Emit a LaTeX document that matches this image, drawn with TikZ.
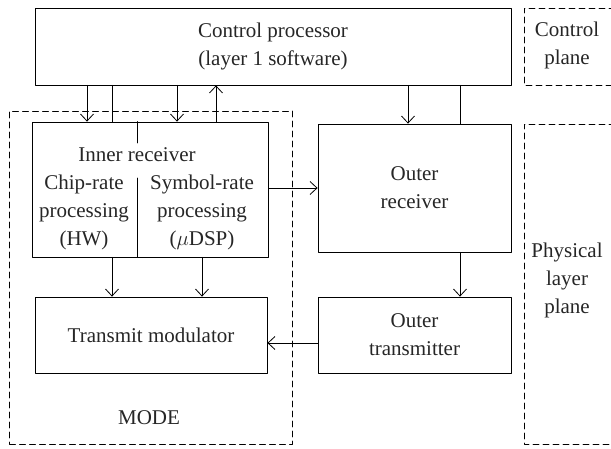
\documentclass[tikz,border=0pt]{standalone}
\usepackage{amsmath}
\usepackage{fontspec}
\setmainfont{Liberation Serif}
\usepackage{tikz}
\usetikzlibrary{arrows.meta}

\begin{document}
\begin{tikzpicture}[line cap=round,line join=round,>={Straight Barb[length=7pt,width=13pt]},x=1pt,y=-1pt,line width=0.8pt,
    font=\fontsize{21}{28}\selectfont,
    block/.style={draw,rectangle,inner sep=0pt,align=center,text=black!85},
    lbl/.style={inner sep=0pt,align=center,text=black!85},
    plane/.style={dashed,dash pattern=on 6pt off 4pt}]
      \useasboundingbox (0,0) rectangle (611,449);
      % boxes
      \node[block,minimum width=476,minimum height=77] (ctrl) at (273,46.5) {Control processor\\(layer 1 software)};
      \node[block,minimum width=236,minimum height=135] (inner) at (150,189.5) {};
      \node[block,minimum width=193,minimum height=128] (outrx) at (414.5,188) {Outer\\receiver};
      \node[block,minimum width=193,minimum height=76] (outtx) at (414.5,335) {Outer\\transmitter};
      \node[block,minimum width=232,minimum height=76] (txmod) at (151,335) {Transmit modulator};
      \node[draw,plane,rectangle,minimum width=283,minimum height=333] (mode) at (151,277.5) {};
      % texts
      \node[lbl] (innerlbl) at (137,155) {Inner receiver};
      \node[lbl] (chip) at (84,212) {Chip-rate\\processing\\(HW)};
      \node[lbl] (symb) at (202,212) {Symbol-rate\\processing\\($\mu$DSP)};
      \node[lbl] (modelbl) at (149,418) {MODE};
      \node[lbl] (ctrlpl) at (567,45) {Control\\plane};
      \node[lbl] (phypl) at (567,280) {Physical\\layer\\plane};
      % planes
      \draw[plane] (615,8) -- (524,8) -- (524,85) -- (615,85);
      \draw[plane] (615,124) -- (524,124) -- (524,444) -- (615,444);
      % inner divider
      \draw (inner.north -| 137,0) -- (137,143);
      \draw (137,178) -- (inner.south -| 137,0);
      % connectors
      \draw[->] (ctrl.south -| 87,0) -- (inner.north -| 87,0);
      \draw (ctrl.south -| 112,0) -- (inner.north -| 112,0);
      \draw[->] (ctrl.south -| 177,0) -- (inner.north -| 177,0);
      \draw[<-] (ctrl.south -| 216,0) -- (inner.north -| 216,0);
      \draw[->] (ctrl.south -| 408,0) -- (outrx.north -| 408,0);
      \draw (ctrl.south -| 460,0) -- (outrx.north -| 460,0);
      \draw[->] (inner.east |- 0,188) -- (outrx.west |- 0,188);
      \draw[->] (inner.south -| 112,0) -- (txmod.north -| 112,0);
      \draw[->] (inner.south -| 202,0) -- (txmod.north -| 202,0);
      \draw[->] (outrx.south -| 460,0) -- (outtx.north -| 460,0);
      \draw[->] (outtx.west |- 0,343) -- (txmod.east |- 0,343);
\end{tikzpicture}
\end{document}
